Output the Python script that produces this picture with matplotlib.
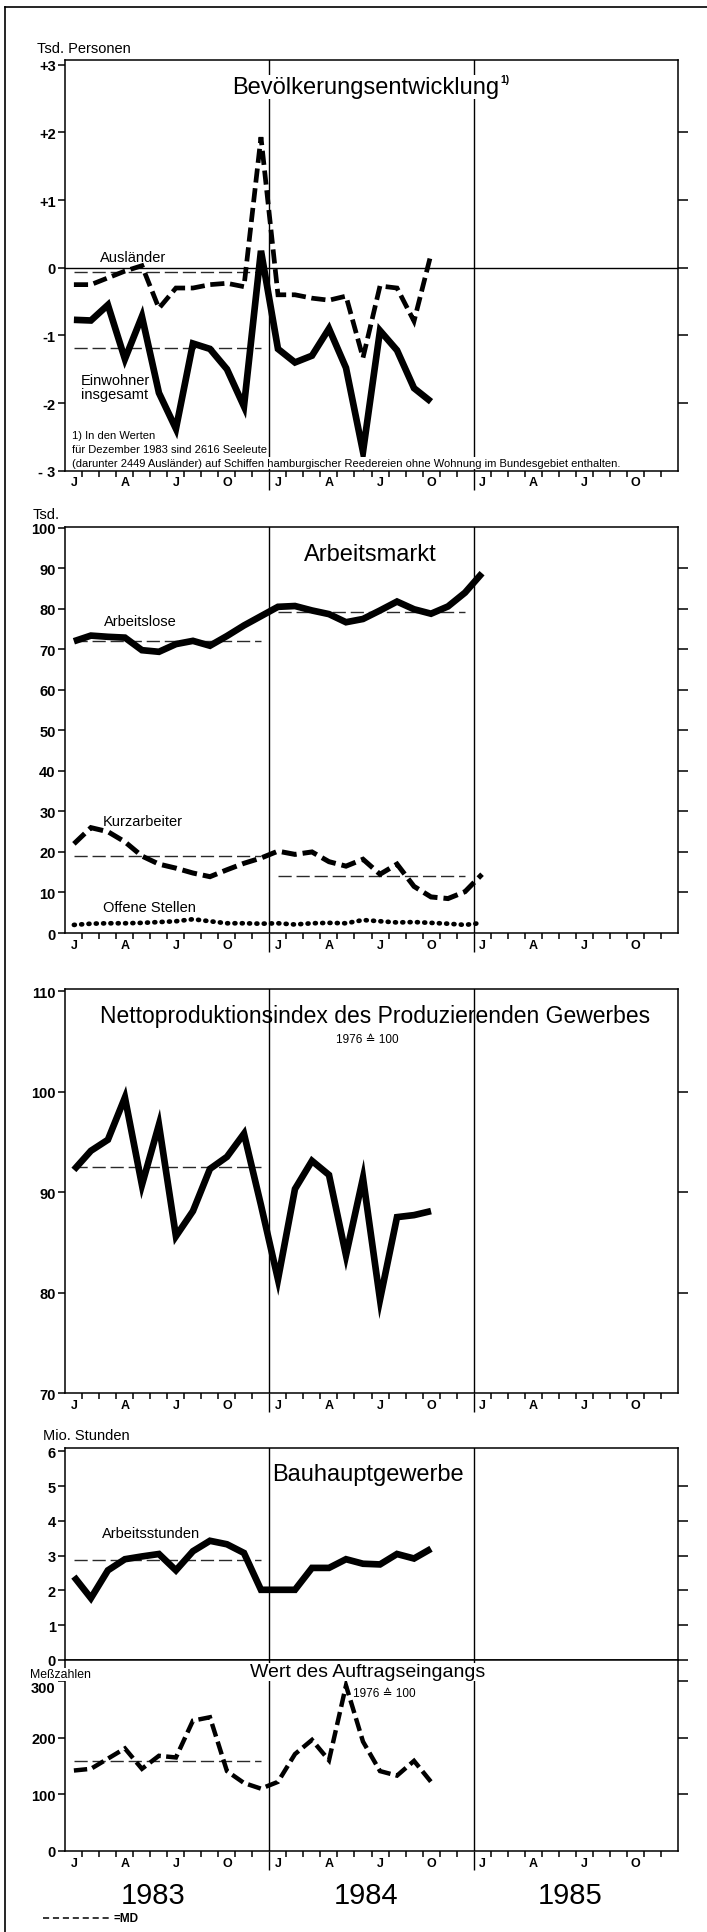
import matplotlib
matplotlib.use("Agg")
import matplotlib.pyplot as plt
from matplotlib.lines import Line2D

# ---------------- data ----------------
month_labels = ["J", "A", "J", "O"]
year_labels = ["1983", "1984", "1985"]

# Bevölkerungsentwicklung (Tsd. Personen), Jan 1983 - Okt 1984
einwohner = [-0.77, -0.78, -0.55, -1.35, -0.72, -1.85, -2.38, -1.12, -1.20, -1.50, -2.05, 0.25,
             -1.20, -1.40, -1.30, -0.90, -1.48, -2.72, -0.93, -1.22, -1.78, -1.98]
auslaender = [-0.25, -0.25, -0.15, -0.05, 0.03, -0.60, -0.30, -0.30, -0.25, -0.23, -0.28, 1.93,
              -0.40, -0.40, -0.45, -0.48, -0.42, -1.33, -0.27, -0.30, -0.79, 0.20]
einwohner_md = {1983: -1.18}
auslaender_md = {1983: -0.07}

# Arbeitsmarkt (Tsd.), Jan 1983 - Jan 1985
arbeitslose = [72.0, 73.4, 73.1, 72.9, 69.8, 69.4, 71.3, 72.1, 70.9, 73.3, 75.9, 78.2,
               80.5, 80.7, 79.6, 78.7, 76.7, 77.5, 79.6, 81.8, 79.9, 78.8, 80.6, 84.0, 88.8]
kurzarbeiter = [22.0, 26.0, 25.0, 22.5, 19.0, 17.0, 16.0, 14.8, 13.9, 15.6, 17.2, 18.5,
                20.2, 19.4, 20.0, 17.6, 16.5, 18.2, 14.5, 17.0, 11.5, 8.9, 8.5, 10.2, 14.5]
offene_stellen = [2.0, 2.3, 2.4, 2.4, 2.5, 2.7, 2.9, 3.4, 2.9, 2.4, 2.4, 2.3,
                  2.4, 2.1, 2.4, 2.5, 2.4, 3.2, 2.9, 2.6, 2.7, 2.5, 2.3, 2.0, 2.5]
arbeitslose_md = {1983: 72.0, 1984: 79.2}
kurzarbeiter_md = {1983: 19.1, 1984: 14.0}

# Nettoproduktionsindex (1976 = 100), Jan 1983 - Okt 1984
index = [92.2, 94.1, 95.2, 99.4, 90.7, 96.7, 85.6, 88.1, 92.3, 93.5, 95.8, 88.7,
         81.3, 90.3, 93.1, 91.7, 83.7, 91.4, 79.3, 87.5, 87.7, 88.1]
index_md = {1983: 92.5}

# Bauhauptgewerbe, Jan 1983 - Okt 1984
arbeitsstunden = [2.40, 1.78, 2.58, 2.90, 2.98, 3.05, 2.58, 3.13, 3.43, 3.33, 3.08, 2.02,
                  2.02, 2.02, 2.65, 2.65, 2.90, 2.77, 2.75, 3.05, 2.92, 3.20]
arbeitsstunden_md = {1983: 2.87}
auftrag = [142, 145, 163, 181, 145, 168, 165, 230, 236, 141, 120, 110,
           122, 171, 196, 160, 292, 193, 141, 133, 159, 122]
auftrag_md = {1983: 158}

# ---------------- layout helpers ----------------
W, H = 707, 1933
fig = plt.figure(figsize=(W / 100, H / 100), dpi=100)
fig.patch.set_facecolor("white")

SANS = ["Liberation Sans", "DejaVu Sans"]


def fx(x):
    return x / W


def fy(y):
    return 1 - y / H


def add_axes(top, bottom, left=65.4, right=677.6):
    return fig.add_axes([fx(left), fy(bottom), (right - left) / W, (bottom - top) / H])


def xs(n):
    return [i + 0.5 for i in range(n)]


def md_line(ax, md):
    for yr, v in md.items():
        k = yr - 1983
        ax.plot([12 * k + 0.5, 12 * k + 11.5], [v, v], color="#2a2a2a", lw=1.0,
                dashes=(9.5, 3.5), zorder=2)


def setup(ax, ylim, yticks, ylabels, rticks, xlabels=True):
    ax.set_xlim(0, 36)
    ax.set_ylim(*ylim)
    for s in ax.spines.values():
        s.set_linewidth(1.1)
    ax.set_yticks(yticks)
    ax.set_yticklabels(ylabels, family=SANS, weight="bold", fontsize=10.5)
    ax.tick_params(axis="y", length=5, width=1.1, direction="out", pad=2)
    sec = ax.secondary_yaxis("right")
    sec.set_yticks(rticks)
    sec.tick_params(axis="y", length=7, width=1.1, direction="out", labelright=False)
    sec.spines["right"].set_visible(False)
    if xlabels:
        ax.set_xticks([12 * k + m + 0.5 for k in range(3) for m in (0, 3, 6, 9)])
        ax.set_xticklabels(month_labels * 3, family=SANS, weight="bold", fontsize=9)
        ax.tick_params(axis="x", which="major", length=0, pad=4)
        ax.set_xticks([i for i in range(1, 36) if i not in (12, 24)], minor=True)
        ax.tick_params(axis="x", which="minor", length=4.5, width=1.1, direction="out")
        secx = ax.secondary_xaxis("bottom")
        secx.set_xticks([12, 24])
        secx.tick_params(axis="x", length=14, width=1.0, direction="out", labelbottom=False)
        secx.spines["bottom"].set_visible(False)
    else:
        ax.set_xticks([])
    for xv in (12, 24):
        ax.axvline(xv, color="black", lw=1.0, zorder=1)


def ftext(x, y, s, size, family=SANS, ha="left", va="center", weight="normal", bg=False, **kw):
    t = fig.text(fx(x), fy(y), s, fontsize=size, family=family, ha=ha, va=va,
                 weight=weight, zorder=10, **kw)
    if bg:
        t.set_bbox(dict(facecolor="white", edgecolor="none", pad=0.6))
    return t


THICK = dict(color="black", lw=4.8, solid_joinstyle="miter", solid_capstyle="butt", zorder=4)
DASHED = dict(color="black", lw=3.4, dashes=(3.0, 1.2), dash_joinstyle="miter",
              dash_capstyle="butt", zorder=4)

# ---------------- Panel 1: Bevölkerungsentwicklung ----------------
ax1 = add_axes(61, 471.7)
setup(ax1, (-3, 3.07), [3, 2, 1, 0, -1, -2, -3], ["+3", "+2", "+1", "0", "-1", "-2", "- 3"],
      [2, 1, 0, -1, -2])
ax1.axhline(0, color="black", lw=1.0, zorder=1)
md_line(ax1, einwohner_md)
md_line(ax1, auslaender_md)
ax1.plot(xs(len(auslaender)), auslaender, **DASHED)
ax1.plot(xs(len(einwohner)), einwohner, **THICK)

ftext(37, 49, "Tsd. Personen", 10.5)
ftext(366, 88, "Bevölkerungsentwicklung", 17, ha="center", bg=True)
ftext(500, 80, "1)", 7.5, weight="bold")
ftext(133, 258, "Ausländer", 10.5, ha="center")
ftext(115, 388, "Einwohner\ninsgesamt", 10.5, ha="center", linespacing=0.95)
ftext(72, 436, "1) In den Werten", 8)
ftext(72, 450, "für Dezember 1983 sind 2616 Seeleute", 8, bg=True)
ftext(72, 464, "(darunter 2449 Ausländer) auf Schiffen hamburgischer Reedereien ohne Wohnung im Bundesgebiet enthalten.",
      8, bg=True)

# ---------------- Panel 2: Arbeitsmarkt ----------------
ax2 = add_axes(528, 934)
setup(ax2, (0, 100.2), list(range(0, 101, 10)), [str(v) for v in range(0, 101, 10)],
      list(range(10, 100, 10)))
md_line(ax2, arbeitslose_md)
md_line(ax2, kurzarbeiter_md)
ax2.plot(xs(len(arbeitslose)), arbeitslose, **THICK)
ax2.plot(xs(len(kurzarbeiter)), kurzarbeiter, **dict(DASHED, lw=3.6))
ax2.plot(xs(len(offene_stellen)), offene_stellen, color="black", lw=3.4, dashes=(0.2, 1.35),
         dash_capstyle="round", zorder=4)

ftext(33, 515, "Tsd.", 10.5)
ftext(370, 555, "Arbeitsmarkt", 17, ha="center")
ftext(104, 622, "Arbeitslose", 10.5)
ftext(103, 822, "Kurzarbeiter", 10.5)
ftext(103, 908, "Offene Stellen", 10.5)

# ---------------- Panel 3: Nettoproduktionsindex ----------------
ax3 = add_axes(990, 1394)
setup(ax3, (70, 110.2), [70, 80, 90, 100, 110], ["70", "80", "90", "100", "110"], [80, 90, 100])
md_line(ax3, index_md)
ax3.plot(xs(len(index)), index, **THICK)

ftext(375, 1017, "Nettoproduktionsindex des Produzierenden Gewerbes", 16.5, ha="center")
ftext(367, 1040, "1976 ≙ 100", 8.5, ha="center")

# ---------------- Panel 4: Bauhauptgewerbe ----------------
ax4 = add_axes(1449, 1661)
setup(ax4, (0, 6.1), [0, 1, 2, 3, 4, 5, 6], [str(v) for v in range(7)], [0, 1, 2, 3, 4, 5],
      xlabels=False)
ax4.get_yticklabels()[0].set_verticalalignment("center_baseline")
md_line(ax4, arbeitsstunden_md)
ax4.plot(xs(len(arbeitsstunden)), arbeitsstunden, **THICK)

ftext(43, 1436, "Mio. Stunden", 10.5)
ftext(368, 1475, "Bauhauptgewerbe", 17, ha="center")
ftext(102, 1534, "Arbeitsstunden", 10.5)

# ---------------- Panel 5: Wert des Auftragseingangs ----------------
ax5 = add_axes(1661, 1852)
setup(ax5, (0, 337), [0, 100, 200, 300], ["0", "100", "200", "300"], [100, 200, 300])
ax5.get_yticklabels()[-1].set_verticalalignment("top")
md_line(ax5, auftrag_md)
ax5.plot(xs(len(auftrag)), auftrag, **dict(DASHED, lw=3.2))

ftext(30, 1675.5, "Meßzahlen", 8.8, bg=True)
ftext(368, 1673, "Wert des Auftragseingangs", 14, ha="center", bg=True)
ftext(353, 1694, "1976 ≙ 100", 8.5)

# year labels
for xc, lab in zip((153, 366, 570), year_labels):
    ftext(xc, 1896, lab, 21, ha="center")

# MD legend
fig.add_artist(Line2D([fx(43), fx(112)], [fy(1919), fy(1919)], color="black", lw=1.1,
                      dashes=(4, 2.5), transform=fig.transFigure))
ftext(113, 1919, "=MD", 8.5, weight="bold")

# outer frame (top and left edges of the scanned sheet)
fig.add_artist(Line2D([fx(4.5), 1.0], [fy(8.3), fy(8.3)], color="black", lw=1.2,
                      transform=fig.transFigure))
fig.add_artist(Line2D([fx(4.5), fx(4.5)], [fy(8.3), 0.0], color="black", lw=1.2,
                      transform=fig.transFigure))

fig.savefig("out.png", dpi=100, facecolor="white")
